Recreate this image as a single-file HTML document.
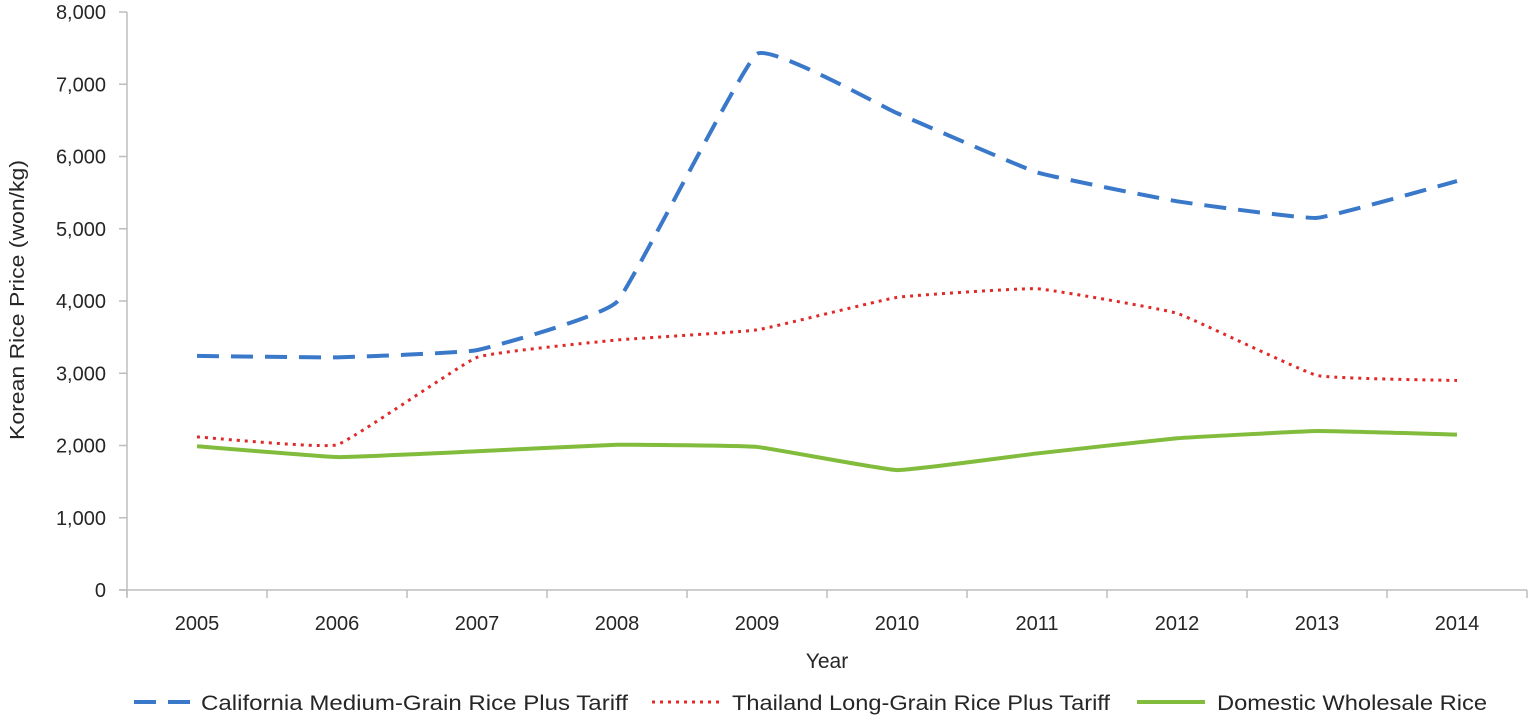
<!DOCTYPE html>
<html><head><meta charset="utf-8"><style>
html,body{margin:0;padding:0;background:#fff;}
svg text{font-family:"Liberation Sans",sans-serif;fill:#262626;}
</style></head><body>
<svg id="chart" width="1532" height="720" viewBox="0 0 1532 720" xmlns="http://www.w3.org/2000/svg">
<g id="axes"></g>
<g id="series"></g>
<text transform="translate(24,300) rotate(-90)" text-anchor="middle" font-size="20" textLength="280" lengthAdjust="spacingAndGlyphs">Korean Rice Price (won/kg)</text>
<text x="827" y="668" text-anchor="middle" font-size="21">Year</text>
<g>
 <g>
  <line x1="134" y1="702" x2="190" y2="702" stroke="#3a78c9" stroke-width="4" stroke-dasharray="22,12"/>
  <text x="201" y="710" font-size="21" textLength="427" lengthAdjust="spacingAndGlyphs">California Medium-Grain Rice Plus Tariff</text>
 </g>
 <g>
  <line x1="652" y1="702" x2="722" y2="702" stroke="#e02a2a" stroke-width="3" stroke-dasharray="3,5"/>
  <text x="732" y="710" font-size="21" textLength="378" lengthAdjust="spacingAndGlyphs">Thailand Long-Grain Rice Plus Tariff</text>
 </g>
 <g>
  <line x1="1137" y1="702" x2="1205" y2="702" stroke="#82bc3c" stroke-width="4"/>
  <text x="1217" y="710" font-size="21" textLength="270" lengthAdjust="spacingAndGlyphs">Domestic Wholesale Rice</text>
 </g>
</g>
</svg>
<script>
const years = ["2005","2006","2007","2008","2009","2010","2011","2012","2013","2014"];
const california = [3240,3220,3320,3990,7420,6600,5780,5380,5150,5660];
const thailand = [2120,2010,3220,3460,3600,4050,4170,3830,2970,2900];
const domestic = [1990,1840,1920,2010,1980,1660,1890,2100,2200,2150];
const yTicks = [0,1000,2000,3000,4000,5000,6000,7000,8000];
const yTickLabels = ["0","1,000","2,000","3,000","4,000","5,000","6,000","7,000","8,000"];

const NS="http://www.w3.org/2000/svg";
const plotL=127,plotR=1527,plotT=12,plotB=590,yMax=8000;
const band=(plotR-plotL)/years.length;
function xPos(i){return plotL+band*(i+0.5);}
function yPos(v){return plotB-(v/yMax)*(plotB-plotT);}
function mk(tag,attrs,parent){const e=document.createElementNS(NS,tag);for(const k in attrs)e.setAttribute(k,attrs[k]);parent.appendChild(e);return e;}
const axes=document.getElementById('axes');
let yl=mk('line',{x1:plotL,y1:plotT,x2:plotL,y2:plotB+6,stroke:'#bdbdbd','stroke-width':1.5},axes);


let xl=mk('line',{x1:plotL-8,y1:plotB,x2:plotR,y2:plotB,stroke:'#bdbdbd','stroke-width':1.5},axes);


yTicks.forEach((v,i)=>{
  const y=yPos(v);
  mk('line',{x1:plotL-8,y1:y,x2:plotL,y2:y,stroke:'#bdbdbd','stroke-width':1.5},axes);
  const t=mk('text',{x:106,y:y+7,'text-anchor':'end','font-size':20},axes);
  t.textContent=yTickLabels[i];
  
  
});
for(let i=0;i<=years.length;i++){
  const x=plotL+band*i;
  mk('line',{x1:x,y1:plotB,x2:x,y2:plotB+8,stroke:'#bdbdbd','stroke-width':1.5},axes);
}
years.forEach((yr,i)=>{
  const t=mk('text',{x:xPos(i),y:630,'text-anchor':'middle','font-size':20},axes);
  t.textContent=yr;
  
  
});
function smoothPath(vals){
  const p=vals.map((v,i)=>[xPos(i),yPos(v)]);
  let d='M'+p[0][0]+','+p[0][1];
  const t=0.05;
  for(let i=0;i<p.length-1;i++){
    const p0=p[i-1]||p[i],p1=p[i],p2=p[i+1],p3=p[i+2]||p[i+1];
    const c1=[p1[0]+(p2[0]-p0[0])*t,p1[1]+(p2[1]-p0[1])*t];
    const c2=[p2[0]-(p3[0]-p1[0])*t,p2[1]-(p3[1]-p1[1])*t];
    d+=' C'+c1+' '+c2+' '+p2;
  }
  return d;
}
const series=document.getElementById('series');
let s1=mk('path',{d:smoothPath(domestic),fill:'none',stroke:'#82bc3c','stroke-width':4,'stroke-linejoin':'round'},series);


let s2=mk('path',{d:smoothPath(thailand),fill:'none',stroke:'#e02a2a','stroke-width':3,'stroke-dasharray':'3,5'},series);


let s3=mk('path',{d:smoothPath(california),fill:'none',stroke:'#3a78c9','stroke-width':4,'stroke-dasharray':'22,12'},series);


</script>
</body></html>
